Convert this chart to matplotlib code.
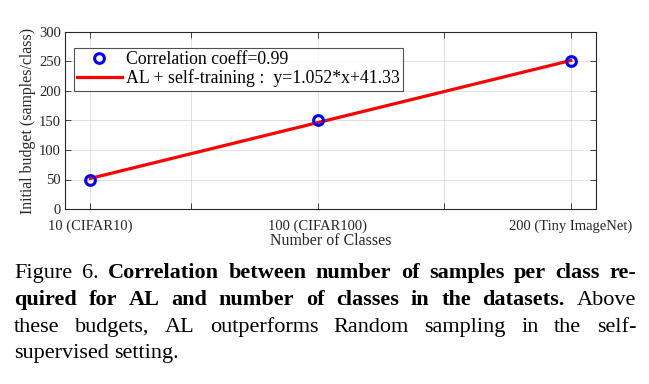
import matplotlib
matplotlib.use("Agg")
import matplotlib.pyplot as plt

classes = [10, 100, 200]
budgets = [50, 150, 250]
fit_x = [10, 200]
fit_y = [51.85, 251.73]
xticks = [10, 50, 100, 150, 200]
xtick_labels = ["10 (CIFAR10)", "", "100 (CIFAR100)", "", "200 (Tiny ImageNet)"]
yticks = [0, 50, 100, 150, 200, 250, 300]
legend_labels = ["Correlation coeff=0.99", "AL + self-training :  y=1.052*x+41.33"]

caption_lines = [
    [("Figure", False), ("6.", False), ("Correlation", True), ("between", True), ("number", True),
     ("of", True), ("samples", True), ("per", True), ("class", True), ("re-", True)],
    [("quired", True), ("for", True), ("AL", True), ("and", True), ("number", True), ("of", True),
     ("classes", True), ("in", True), ("the", True), ("datasets.", True), ("Above", False)],
    [("these", False), ("budgets,", False), ("AL", False), ("outperforms", False), ("Random", False),
     ("sampling", False), ("in", False), ("the", False), ("self-", False)],
    [("supervised", False), ("setting.", False)],
]

plt.rcParams['font.family'] = ['Liberation Serif', 'DejaVu Serif']

W, H = 649, 384
fig = plt.figure(figsize=(W / 100, H / 100), dpi=100)
ax = fig.add_axes([65 / W, 1 - 209 / H, (596 - 65) / W, (209 - 32) / H])

ax.plot(classes, budgets, 'o', mfc='none', mec=(0, 0, 1), mew=2.2, ms=7, label=legend_labels[0], zorder=3)
ax.plot(fit_x, fit_y, '-', color=(1, 0, 0), lw=2.3, label=legend_labels[1], zorder=2)

ax.set_xlim(0, 210)
ax.set_ylim(0, 300)
ax.set_xticks(xticks)
ax.set_xticklabels(xtick_labels)
ax.set_yticks(yticks)
ax.tick_params(direction='in', length=4, width=0.6, top=True, right=True, labelsize=10.5,
               colors='#262626', labelcolor='#262626', pad=3)
ax.tick_params(axis='x', pad=7.5)
ax.grid(True, color='#dcdcdc', lw=0.6)
ax.set_axisbelow(True)
for s in ax.spines.values():
    s.set_color('#262626')
    s.set_linewidth(0.8)
ax.set_xlabel("Number of Classes", fontsize=11.4, color='#262626', labelpad=0)
ax.set_ylabel("Initial budget (samples/class)", fontsize=11.4, color='#262626', labelpad=2)

leg = ax.legend(loc='upper left', bbox_to_anchor=((74 - 65) / 531, 1 - (48 - 32) / 177),
                fontsize=12.8, frameon=True, fancybox=False, edgecolor='#262626',
                borderaxespad=0, handlelength=2.5, handletextpad=0.25, borderpad=0.18,
                labelspacing=0.08)
leg.get_frame().set_linewidth(0.8)

# justified caption
fig.canvas.draw()
renderer = fig.canvas.get_renderer()
x_left, x_right = 14, 636
fs = 16
y0 = 278
dy = 26.8
for li, line in enumerate(caption_lines):
    widths = []
    for word, bold in line:
        t = fig.text(0, 0, word, fontsize=fs, fontweight='bold' if bold else 'normal')
        bb = t.get_window_extent(renderer)
        widths.append(bb.width)
        t.remove()
    last = li == len(caption_lines) - 1
    if last or len(line) == 1:
        space = fs * 0.25 * 100 / 72
    else:
        space = (x_right - x_left - sum(widths)) / (len(line) - 1)
    x = x_left
    y = y0 + li * dy
    for (word, bold), w in zip(line, widths):
        fig.text(x / W, 1 - y / H, word, fontsize=fs, fontweight='bold' if bold else 'normal',
                 va='baseline', ha='left', color='black')
        x += w + space

fig.savefig("out.png", dpi=100)
